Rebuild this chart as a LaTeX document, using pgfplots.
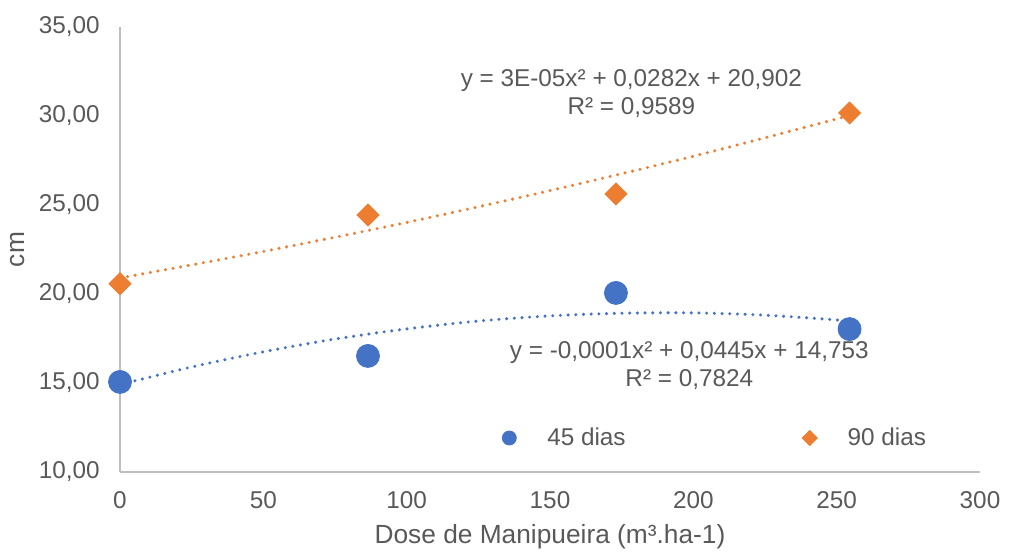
\documentclass[border=0pt]{standalone}
\usepackage{fontspec}
\setmainfont{Liberation Sans}
\usepackage{pgfplots}
\pgfplotsset{compat=1.18}
\definecolor{txt}{HTML}{595959}
\definecolor{ax}{HTML}{BFBFBF}
\definecolor{blu}{HTML}{4472C4}
\definecolor{org}{HTML}{ED7D31}

% trend lines tabulated from the chart (dotted polynomial fits)
\pgfplotstableread{
x y
0 14.91
25 15.90
50 16.75
75 17.47
100 18.04
125 18.48
150 18.77
175 18.92
200 18.94
225 18.81
253 18.51
}\trendA
\pgfplotstableread{
x y
0 20.90
50 22.39
100 24.02
150 25.81
200 27.74
253 29.96
}\trendB

\newcommand{\fs}{\fontsize{12.2}{14}\selectfont}
\begin{document}
\begin{tikzpicture}
\begin{axis}[
    width=430bp, height=222.5bp,
    scale only axis,
    xmin=0, xmax=300, ymin=10, ymax=35,
    xtick={0,50,...,300}, ytick={10,15,...,35},
    axis x line=bottom, axis y line=left,
    axis line style={-, draw=ax, line width=0.9bp},
    major tick length=0pt,
    clip=false,
    tick label style={text=txt, font=\fs},
    xticklabel style={anchor=center, yshift=-14bp},
    yticklabel style={anchor=east, inner xsep=0pt, xshift=-10bp,
        /pgf/number format/.cd, fixed, fixed zerofill, precision=2, use comma},
    /pgf/number format/assume math mode=true,
    xlabel={Dose de Manipueira (m³.ha-1)},
    ylabel={cm},
    label style={text=txt, font=\fontsize{13.2}{15}\selectfont},
    xlabel style={at={(axis description cs:0.5,0)}, anchor=center, yshift=-32.5bp},
    ylabel style={at={(axis description cs:0,0.5)}, anchor=center, rotate=0, yshift=51bp},
    legend style={draw=none, fill=none, at={(0.693,0.0764)}, anchor=center,
        legend columns=2, text=txt, font=\fs,
        /tikz/every even column/.append style={column sep=86bp}},
    legend cell align=left,
]
\path ([xshift=-60bp,yshift=-39bp]rel axis cs:0,0) rectangle ([xshift=14.5bp,yshift=13.5bp]rel axis cs:1,1);

\addplot[forget plot, blu, line width=1.7bp, line cap=round,
    dash pattern=on 0pt off 3.85bp, smooth] table {\trendA};
\addplot[forget plot, org, line width=1.7bp, line cap=round,
    dash pattern=on 0pt off 3.85bp, smooth] table {\trendB};

\addplot[only marks, mark=*, mark size=5.75bp, draw=blu, fill=blu,
    legend image code/.code={\fill[blu] (0,0) circle (3.5bp); \path[draw=none,fill=none] (0,0) -- (17bp,0);}]
    coordinates {(0,15.06) (86.5,16.52) (173,20.06) (254.5,18.03)};
\addlegendentry{45 dias}
\addplot[only marks, mark=square*, mark size=3.9bp, mark options={rotate=45}, draw=org, fill=org,
    legend image code/.code={\fill[org] (0,3.8bp) -- (3.8bp,0) -- (0,-3.8bp) -- (-3.8bp,0) -- cycle; \path[draw=none,fill=none] (0,0) -- (17bp,0);}]
    coordinates {(0,20.58) (86.5,24.44) (173,25.62) (254.5,30.17)};
\addlegendentry{90 dias}

\node[text=txt, align=center, font=\fs]
    at (axis cs:178.4,31.24) {y = 3E-05x² + 0,0282x + 20,902\\R² = 0,9589};
\node[text=txt, align=center, font=\fs]
    at (axis cs:198.6,16.0) {y = -0,0001x² + 0,0445x + 14,753\\R² = 0,7824};
\end{axis}
\end{tikzpicture}
\end{document}
